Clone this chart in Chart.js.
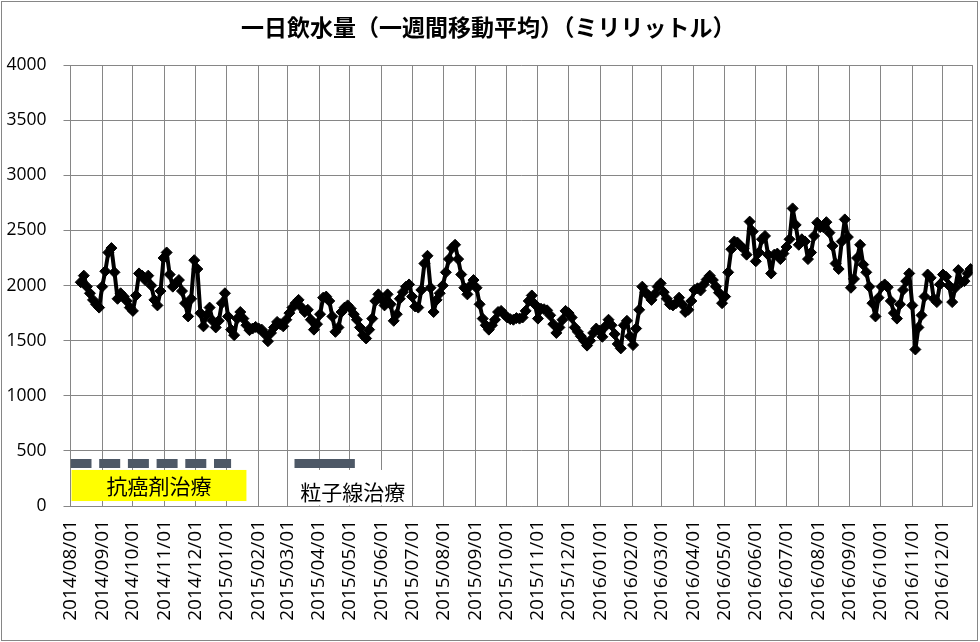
<!DOCTYPE html>
<html>
<head>
<meta charset="utf-8">
<title>一日飲水量</title>
<script src="https://cdn.jsdelivr.net/npm/chart.js@4.4.0/dist/chart.umd.min.js"></script>
<style>
  html, body { margin: 0; padding: 0; background: #fff; }
  #wrap { width: 980px; height: 642px; }
</style>
</head>
<body>
<div id="wrap"><canvas id="drinkChart" width="980" height="642"></canvas></div>
<script>
var chartTitle = '一日飲水量（一週間移動平均）（ミリリットル）';
var firstDay = '2014/08/01';
var lastDay = '2016/12/30';

// one-week moving average, every 3 days from sampleStart
var sampleStart = '2014/08/11';
var sampleStepDays = 3;
var drinkValues = [
  2030, 2090, 1990, 1930, 1870, 1830, 1800, 1990, 2130, 2300,
  2340, 2120, 1880, 1930, 1900, 1860, 1800, 1770, 1910, 2110,
  2090, 2050, 2090, 2000, 1870, 1820, 1950, 2250, 2300, 2100,
  1990, 2020, 2050, 1950, 1840, 1720, 1880, 2230, 2150, 1750,
  1630, 1730, 1800, 1680, 1620, 1680, 1840, 1930, 1720, 1600,
  1550, 1700, 1760, 1700, 1640, 1595, 1610, 1625, 1610, 1600,
  1560, 1495, 1570, 1620, 1670, 1650, 1630, 1690, 1750, 1800,
  1840, 1870, 1800, 1760, 1780, 1690, 1600, 1650, 1740, 1890,
  1900, 1860, 1720, 1580, 1620, 1760, 1800, 1820, 1790, 1740,
  1690, 1620, 1550, 1520, 1600, 1700, 1860, 1920, 1875, 1820,
  1920, 1830, 1680, 1740, 1880, 1940, 1990, 2010, 1900, 1810,
  1800, 1960, 2200, 2270, 1980, 1760, 1870, 1930, 2000, 2120,
  2240, 2340, 2370, 2240, 2100, 1980, 1920, 2000, 2050, 1980,
  1830, 1700, 1640, 1600, 1640, 1690, 1760, 1770, 1740, 1710,
  1695, 1690, 1705, 1700, 1710, 1770, 1860, 1910, 1830, 1700,
  1790, 1785, 1775, 1730, 1650, 1570, 1620, 1690, 1770, 1750,
  1710, 1620, 1580, 1540, 1500, 1455, 1500, 1570, 1610, 1590,
  1535, 1630, 1690, 1640, 1560, 1470, 1430, 1640, 1680, 1540,
  1460, 1610, 1780, 1990, 1940, 1910, 1870, 1920, 1990, 2020,
  1940, 1880, 1830, 1820, 1840, 1890, 1830, 1760, 1780, 1860,
  1960, 1975, 1955, 2010, 2055, 2090, 2050, 1990, 1935, 1840,
  1900, 2120, 2330, 2400, 2390, 2360, 2335, 2280, 2580, 2490,
  2220, 2300, 2420, 2450, 2280, 2110, 2280, 2290, 2240, 2290,
  2350, 2420, 2700, 2550, 2370, 2420, 2400, 2240, 2300, 2450,
  2570, 2530, 2530, 2575, 2480, 2360, 2200, 2150, 2400, 2600,
  2440, 1980, 2060, 2250, 2370, 2190, 2120, 1990, 1840, 1720,
  1890, 1990, 2010, 1985, 1860, 1750, 1700, 1830, 1960, 2040,
  2110, 1820, 1420, 1620, 1730, 1900, 2100, 2070, 1880, 1850,
  2010, 2100, 2080, 2000, 1850, 1980, 2140, 2030, 2040, 2110,
  2150
];

// treatment periods drawn as bars near the bottom
var treatNames = ['抗癌剤治療', '粒子線治療'];
var treatStarts = ['2014/08/01', '2015/03/08'];
var treatEnds = ['2015/01/05', '2015/05/06'];
var treatLevel = 385;

var gridGray = '#868686';
var baseTime = toTime(firstDay);

function toTime(s) {
  var p = s.split('/');
  return Date.UTC(+p[0], +p[1] - 1, +p[2]);
}

function dayIndex(s) {
  return (toTime(s) - baseTime) / 86400000;
}

function pad(n) {
  return n < 10 ? '0' + n : '' + n;
}

function fmtDay(v) {
  var d = new Date(baseTime + v * 86400000);
  return d.getUTCFullYear() + '/' + pad(d.getUTCMonth() + 1) + '/' + pad(d.getUTCDate());
}

// first day of every month on the axis
var monthTicks = [];
(function buildMonths() {
  var end = dayIndex(lastDay);
  var y = 2014, m = 7;
  while (true) {
    var v = (Date.UTC(y, m, 1) - baseTime) / 86400000;
    if (v > end) break;
    monthTicks.push(v);
    m++;
    if (m > 11) { m = 0; y++; }
  }
})();

var drinkPoints = [];
for (var i = 0; i < drinkValues.length; i++) {
  drinkPoints.push({ x: dayIndex(sampleStart) + i * sampleStepDays, y: drinkValues[i] });
}

var treatSets = [];
for (var j = 0; j < treatNames.length; j++) {
  treatSets.push({
    label: treatNames[j],
    data: [{ x: dayIndex(treatStarts[j]), y: treatLevel }, { x: dayIndex(treatEnds[j]), y: treatLevel }],
    borderColor: '#4d5866',
    borderWidth: 9,
    borderDash: j === 0 ? [21, 7.7] : [],
    borderCapStyle: 'butt',
    pointRadius: 0
  });
}

var notesPlugin = {
  id: 'notes',
  beforeDraw: function(chart) {
    var ctx = chart.ctx;
    ctx.save();
    ctx.fillStyle = '#fff';
    ctx.fillRect(0, 0, chart.width, chart.height);
    ctx.restore();
  },
  beforeDatasetsDraw: function(chart) {
    var ctx = chart.ctx;
    var xs = chart.scales.x, ys = chart.scales.y;
    var area = chart.chartArea;
    ctx.save();

    // right edge of plot area
    ctx.strokeStyle = gridGray;
    ctx.lineWidth = 1;
    ctx.beginPath();
    ctx.moveTo(Math.round(area.right) - 0.5, area.top);
    ctx.lineTo(Math.round(area.right) - 0.5, area.bottom);
    ctx.stroke();

    // yellow label box
    var x1 = xs.getPixelForValue(dayIndex('2014/08/02'));
    var x2 = xs.getPixelForValue(dayIndex('2015/01/20'));
    var y1 = ys.getPixelForValue(327);
    var y2 = ys.getPixelForValue(45);
    ctx.fillStyle = '#ffff00';
    ctx.fillRect(x1, y1, x2 - x1, y2 - y1);

    ctx.font = '21px "Noto Sans CJK JP"';
    ctx.fillStyle = '#000';
    ctx.textAlign = 'center';
    ctx.textBaseline = 'middle';
    ctx.fillText(treatNames[0], (x1 + x2) / 2, (y1 + y2) / 2 + 1);

    // white text box for the second label
    var w1 = xs.getPixelForValue(dayIndex('2015/03/09'));
    var w2 = xs.getPixelForValue(dayIndex('2015/06/30'));
    var h1 = ys.getPixelForValue(327);
    var h2 = ys.getPixelForValue(6);
    ctx.fillStyle = '#fff';
    ctx.fillRect(w1, h1, w2 - w1, h2 - h1);
    ctx.fillStyle = '#000';
    ctx.fillText(treatNames[1], xs.getPixelForValue(dayIndex('2015/05/04')), ys.getPixelForValue(128));

    ctx.restore();
  },
  afterDraw: function(chart) {
    var ctx = chart.ctx;
    ctx.save();
    ctx.strokeStyle = gridGray;
    ctx.lineWidth = 1;
    ctx.strokeRect(1.5, 1.5, 976, 639);
    ctx.restore();
  }
};

var ctx = document.getElementById('drinkChart').getContext('2d');
var drinkChart = new Chart(ctx, {
  type: 'line',
  data: {
    datasets: [{
      label: chartTitle,
      data: drinkPoints,
      borderColor: '#000',
      borderWidth: 4,
      borderJoinStyle: 'round',
      pointStyle: 'rectRot',
      pointRadius: 5.5,
      pointBackgroundColor: '#000',
      pointBorderColor: '#000',
      pointBorderWidth: 1,
      tension: 0
    }].concat(treatSets)
  },
  options: {
    responsive: false,
    animation: false,
    devicePixelRatio: 1,
    layout: { padding: { left: 0, right: 3.3, top: 0, bottom: 0 } },
    plugins: {
      legend: { display: false },
      tooltip: { enabled: false },
      title: {
        display: true,
        text: chartTitle,
        color: '#000',
        font: { family: '"Noto Sans CJK JP"', size: 23, weight: 'bold' },
        padding: { top: 13, bottom: 24.5 }
      }
    },
    scales: {
      x: {
        type: 'linear',
        min: 0,
        max: dayIndex(lastDay),
        grid: { color: gridGray, drawTicks: false },
        border: { color: gridGray },
        ticks: {
          autoSkip: false,
          maxRotation: 90,
          minRotation: 90,
          padding: 14,
          color: '#000',
          font: { family: '"Open Sans"', size: 19 },
          callback: function(v) { return fmtDay(v); }
        },
        afterBuildTicks: function(scale) {
          scale.ticks = monthTicks.map(function(v) { return { value: v }; });
        },
        afterFit: function(scale) { scale.height = 136; }
      },
      y: {
        min: 0,
        max: 4000,
        grid: { color: gridGray, drawTicks: true, tickLength: 7 },
        border: { color: gridGray },
        ticks: {
          stepSize: 500,
          padding: 17,
          color: '#000',
          font: { family: '"Open Sans"', size: 17.5 },
          callback: function(v) { return String(v); }
        },
        afterFit: function(scale) { scale.width = 70.5; }
      }
    }
  },
  plugins: [notesPlugin]
});
</script>
</body>
</html>
